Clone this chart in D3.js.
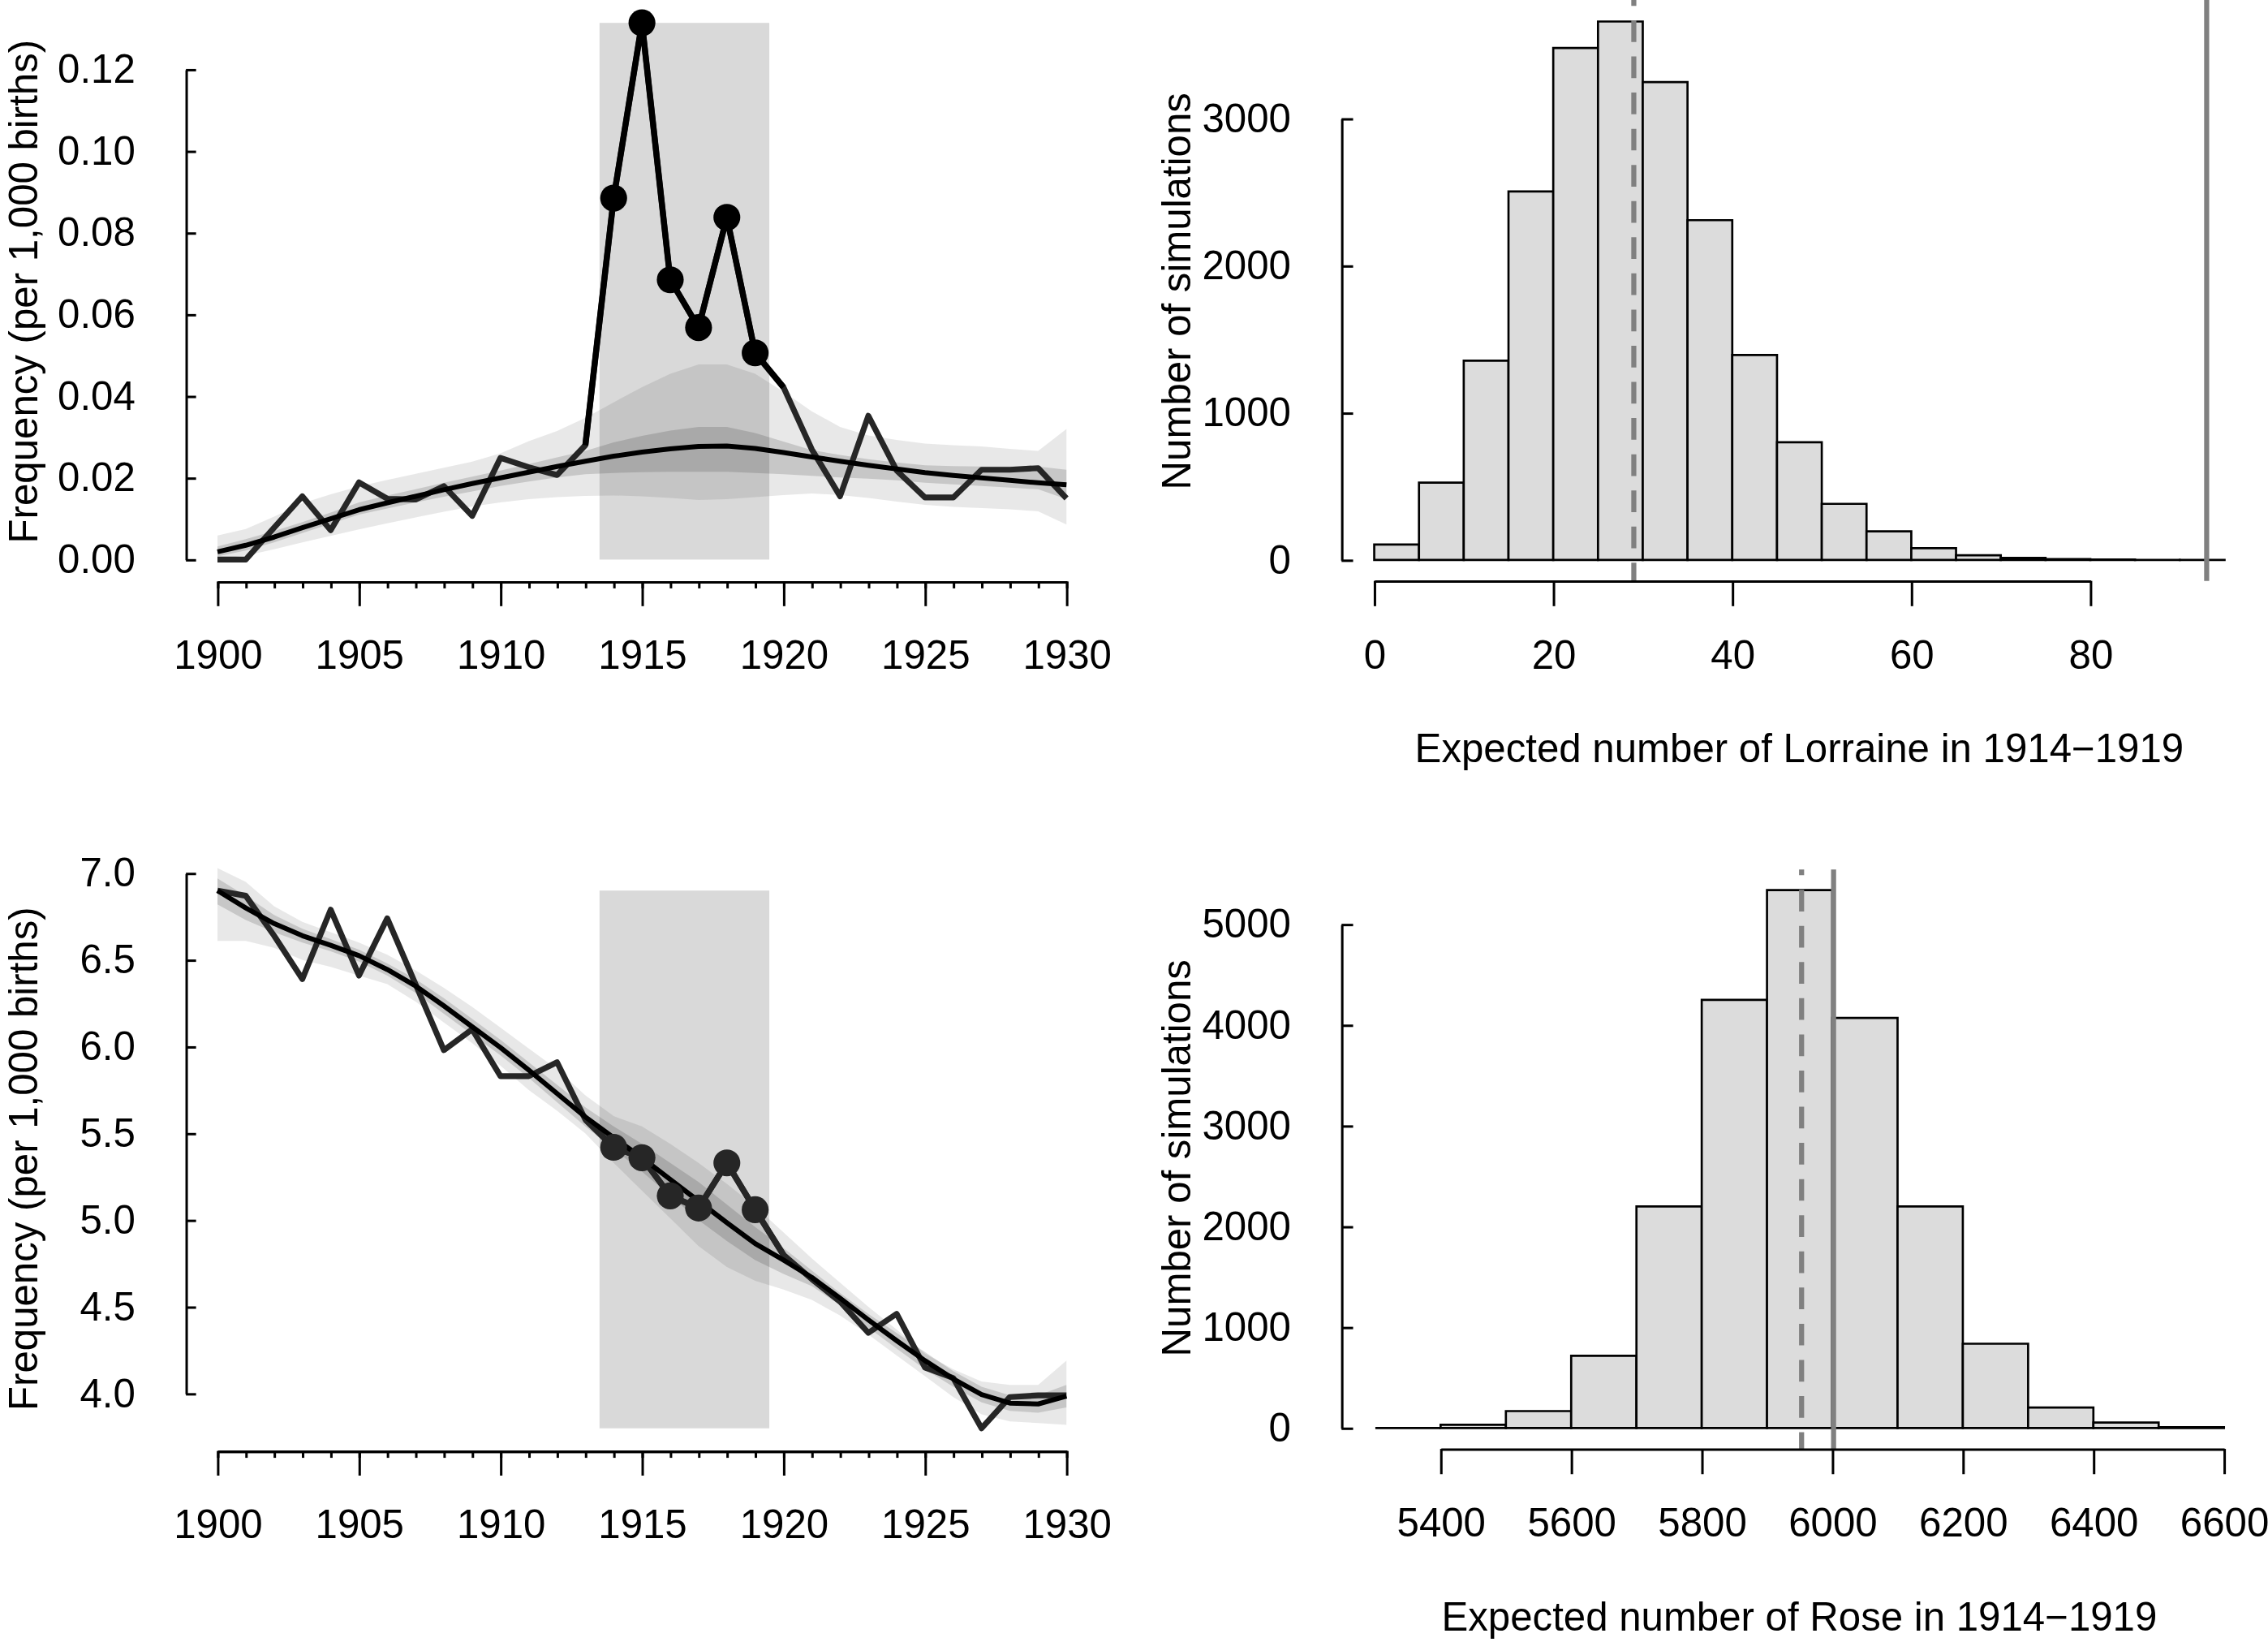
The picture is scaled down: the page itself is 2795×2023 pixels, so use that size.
<!DOCTYPE html>
<html><head><meta charset="utf-8">
<script src="https://cdn.jsdelivr.net/npm/d3@7"></script>
<style>html,body{margin:0;padding:0;background:#fff;} svg{display:block;}</style>
</head><body>
<svg id="chart"></svg>
<script>
// ---------------- DATA ----------------
const years = [1900,1901,1902,1903,1904,1905,1906,1907,1908,1909,1910,1911,1912,1913,1914,1915,1916,1917,1918,1919,1920,1921,1922,1923,1924,1925,1926,1927,1928,1929,1930];
const majorYears = [1900,1905,1910,1915,1920,1925,1930];
const periodYears = [1914,1915,1916,1917,1918,1919];
const highlightYears = [1913,1914,1915,1916,1917,1918,1919,1920];

// Lorraine: frequency per 1,000 births
const lorraineObserved = [0.000,0.000,0.0078,0.0155,0.0072,0.0189,0.0149,0.0147,0.0180,0.0107,0.0249,0.0226,0.0207,0.0280,0.0885,0.1314,0.0685,0.0568,0.0838,0.0506,0.0422,0.0270,0.0155,0.0352,0.0218,0.0152,0.0152,0.0220,0.0220,0.0224,0.0150];
const lorraineSmooth   = [0.0019,0.0035,0.0055,0.0078,0.0100,0.0122,0.0139,0.0155,0.0171,0.0186,0.0200,0.0214,0.0228,0.0241,0.0253,0.0263,0.0271,0.0277,0.0278,0.0272,0.0262,0.0251,0.0241,0.0231,0.0222,0.0213,0.0206,0.0200,0.0194,0.0188,0.0183];
const lorraineOuterUp  = [0.0059,0.0075,0.0105,0.0138,0.0160,0.0179,0.0195,0.0210,0.0225,0.0240,0.0260,0.0290,0.0315,0.0347,0.0385,0.0422,0.0455,0.0478,0.0478,0.0455,0.0411,0.0363,0.0325,0.0304,0.0293,0.0284,0.0280,0.0277,0.0271,0.0266,0.0320];
const lorraineOuterLo  = [0.0002,0.0010,0.0025,0.0042,0.0058,0.0074,0.0089,0.0103,0.0117,0.0130,0.0140,0.0148,0.0153,0.0156,0.0157,0.0155,0.0151,0.0146,0.0148,0.0153,0.0158,0.0162,0.0158,0.0151,0.0142,0.0134,0.0129,0.0126,0.0123,0.0118,0.0086];
const lorraineInnerUp  = [0.0032,0.0050,0.0070,0.0092,0.0115,0.0140,0.0157,0.0172,0.0188,0.0203,0.0218,0.0234,0.0250,0.0266,0.0287,0.0303,0.0316,0.0325,0.0325,0.0310,0.0289,0.0268,0.0256,0.0246,0.0238,0.0231,0.0229,0.0228,0.0228,0.0228,0.0220];
const lorraineInnerLo  = [0.0008,0.0022,0.0042,0.0065,0.0088,0.0110,0.0125,0.0140,0.0154,0.0167,0.0180,0.0191,0.0201,0.0209,0.0212,0.0214,0.0215,0.0215,0.0215,0.0212,0.0209,0.0205,0.0201,0.0198,0.0194,0.0188,0.0184,0.0180,0.0176,0.0172,0.0148];
const lorraineYTicks = [0,0.02,0.04,0.06,0.08,0.10,0.12];

// Rose: frequency per 1,000 births
const roseObserved = [6.90,6.87,6.64,6.39,6.79,6.41,6.74,6.36,5.98,6.10,5.83,5.83,5.91,5.58,5.42,5.36,5.14,5.07,5.33,5.06,4.80,4.66,4.53,4.35,4.46,4.15,4.09,3.80,3.98,3.99,3.99];
const roseSmooth   = [6.90,6.80,6.71,6.64,6.585,6.525,6.445,6.35,6.235,6.115,5.995,5.865,5.73,5.595,5.475,5.36,5.235,5.11,4.985,4.865,4.77,4.67,4.55,4.425,4.305,4.19,4.085,3.995,3.945,3.94,3.985];
const roseOuterUp  = [7.03,6.95,6.81,6.72,6.66,6.60,6.53,6.44,6.34,6.23,6.11,5.99,5.87,5.72,5.60,5.54,5.44,5.33,5.21,5.08,4.93,4.78,4.64,4.50,4.37,4.23,4.14,4.07,4.05,4.05,4.19];
const roseOuterLo  = [6.61,6.61,6.57,6.50,6.46,6.41,6.36,6.26,6.14,6.02,5.89,5.75,5.63,5.50,5.33,5.17,5.01,4.85,4.73,4.65,4.60,4.54,4.45,4.34,4.22,4.10,3.98,3.88,3.84,3.83,3.82];
const roseInnerUp  = [6.97,6.87,6.76,6.68,6.62,6.56,6.48,6.39,6.28,6.16,6.04,5.91,5.78,5.65,5.54,5.44,5.33,5.22,5.09,4.96,4.84,4.71,4.58,4.46,4.35,4.24,4.13,4.04,3.99,3.99,4.05];
const roseInnerLo  = [6.82,6.73,6.66,6.60,6.55,6.49,6.41,6.31,6.19,6.07,5.95,5.82,5.68,5.54,5.41,5.28,5.14,5.00,4.88,4.77,4.69,4.62,4.51,4.38,4.26,4.14,4.04,3.95,3.90,3.89,3.92];
const roseYTicks = [4.0,4.5,5.0,5.5,6.0,6.5,7.0];

// Histogram: expected number of Lorraine in 1914-1919
const lorraineBinEdges = [0,5,10,15,20,25,30,35,40,45,50,55,60,65,70,75,80,85,90,95];
const lorraineCounts   = [105,526,1355,2505,3480,3660,3248,2310,1393,800,382,195,80,32,14,6,3,1,1];
const lorraineHistXTicks = [0,20,40,60,80];
const lorraineHistYTicks = [0,1000,2000,3000];
const lorraineExpected = 29.0;   // dashed line
const lorraineObservedTotal = 93.0; // solid line

// Histogram: expected number of Rose in 1914-1919
const roseBinEdges = [5300,5400,5500,5600,5700,5800,5900,6000,6100,6200,6300,6400,6500,6600];
const roseCounts   = [0,32,168,717,2200,4250,5340,4070,2200,837,203,54,8];
const roseHistXTicks = [5400,5600,5800,6000,6200,6400,6600];
const roseHistYTicks = [0,1000,2000,3000,4000,5000];
const roseExpected = 5953;
const roseObservedTotal = 6002;

// ---------------- DRAWING ----------------
const W = 2795, H = 2023, VW = 1568, VH = 1135;
const FONT = '"Liberation Sans", Arial, Helvetica, sans-serif';
const FS = 27.6;
const AXW = 1.7;

const svg = d3.select('#chart').attr('width', W).attr('height', H)
  .attr('viewBox', `0 0 ${VW} ${VH}`)
  .attr('font-family', FONT);
svg.append('rect').attr('width', VW).attr('height', VH).attr('fill', '#fff');

function styleAxis(g) {
  g.attr('font-family', FONT).attr('font-size', FS);
  g.selectAll('path.domain').attr('stroke', '#000').attr('stroke-width', AXW);
  g.selectAll('.tick line').attr('stroke', '#000').attr('stroke-width', AXW);
  g.selectAll('.tick text').attr('fill', '#000');
}

function linePanel(cfg) {
  const g = svg.append('g');
  const x = d3.scaleLinear().domain([1900, 1930]).range([150.3, 737.3]);
  const y = d3.scaleLinear().domain(cfg.yDomain).range(cfg.yRange);

  const lo = d3.min(cfg.obs), hi = d3.max(cfg.obs);
  const p0 = d3.min(periodYears) - 0.5, p1 = d3.max(periodYears) + 0.5;
  g.append('rect')
    .attr('x', x(p0)).attr('width', x(p1) - x(p0))
    .attr('y', y(hi)).attr('height', y(lo) - y(hi))
    .attr('fill', '#d9d9d9');

  const band = (up, low) => d3.area()
    .x((d, i) => x(years[i])).y0((d, i) => y(low[i])).y1((d, i) => y(up[i]));
  g.append('path').datum(years).attr('d', band(cfg.outerUp, cfg.outerLo))
    .attr('fill', '#000').attr('fill-opacity', 0.09);
  g.append('path').datum(years).attr('d', band(cfg.innerUp, cfg.innerLo))
    .attr('fill', '#000').attr('fill-opacity', 0.14);

  const line = d3.line().x(d => x(d.yr)).y(d => y(d.v));
  const obsPts = years.map((yr, i) => ({ yr, v: cfg.obs[i] }));
  g.append('path').datum(obsPts).attr('d', line)
    .attr('fill', 'none').attr('stroke', '#262626').attr('stroke-width', 4.0)
    .attr('stroke-linejoin', 'round');
  const hl = obsPts.filter(d => highlightYears.includes(d.yr));
  g.append('path').datum(hl).attr('d', line)
    .attr('fill', 'none').attr('stroke', cfg.hlColor).attr('stroke-width', 4.2)
    .attr('stroke-linejoin', 'round');

  const smPts = years.map((yr, i) => ({ yr, v: cfg.smooth[i] }));
  g.append('path').datum(smPts).attr('d', line)
    .attr('fill', 'none').attr('stroke', '#000').attr('stroke-width', 3.4)
    .attr('stroke-linejoin', 'round');

  g.selectAll('circle.pt').data(obsPts.filter(d => periodYears.includes(d.yr)))
    .join('circle').attr('class', 'pt')
    .attr('cx', d => x(d.yr)).attr('cy', d => y(d.v)).attr('r', 9.3)
    .attr('fill', cfg.hlColor);

  // y axis (ticks inward)
  const ya = g.append('g').attr('transform', 'translate(128.5,0)')
    .call(d3.axisLeft(y).tickValues(cfg.yTicks).tickFormat(d3.format(cfg.yFmt))
      .tickSize(-7).tickSizeOuter(0).tickPadding(35));
  styleAxis(ya);

  // x axis: minor and major ticks
  const xa1 = g.append('g').attr('transform', `translate(0,${cfg.xAxisY})`)
    .call(d3.axisBottom(x).tickValues(years).tickFormat('').tickSize(4.7).tickSizeOuter(0));
  styleAxis(xa1);
  const xa2 = g.append('g').attr('transform', `translate(0,${cfg.xAxisY})`)
    .call(d3.axisBottom(x).tickValues(majorYears).tickFormat(d3.format('d'))
      .tickSize(17).tickSizeOuter(0).tickPadding(23.5));
  styleAxis(xa2);

  g.append('text').attr('transform', `translate(25.5,${cfg.labelY}) rotate(-90)`)
    .attr('text-anchor', 'middle').attr('font-size', FS).attr('fill', '#000')
    .text('Frequency (per 1,000 births)');
}

function histPanel(cfg) {
  const g = svg.append('g');
  const x = d3.scaleLinear().domain(cfg.xDomain).range(cfg.xRange);
  const y = d3.scaleLinear().domain(cfg.yDomain).range(cfg.yRange);

  g.selectAll('path.bar').data(cfg.counts).join('path').attr('class', 'bar')
    .attr('d', (c, i) => `M${x(cfg.edges[i])},${y(0)}V${y(c)}H${x(cfg.edges[i + 1])}V${y(0)}Z`)
    .attr('fill', '#dcdcdc').attr('stroke', '#000').attr('stroke-width', 1.5)
    .attr('stroke-linejoin', 'miter');

  g.append('line').attr('x1', x(cfg.expected)).attr('x2', x(cfg.expected))
    .attr('y1', cfg.vTop).attr('y2', cfg.vBottom)
    .attr('stroke', '#808080').attr('stroke-width', 3.5)
    .attr('stroke-dasharray', '15,10').attr('stroke-dashoffset', 11);
  g.append('line').attr('x1', x(cfg.observed)).attr('x2', x(cfg.observed))
    .attr('y1', cfg.vTop).attr('y2', cfg.vBottom)
    .attr('stroke', '#808080').attr('stroke-width', 3.5);

  const ya = g.append('g').attr('transform', 'translate(927.5,0)')
    .call(d3.axisLeft(y).tickValues(cfg.yTicks).tickFormat(d3.format('d'))
      .tickSize(-8).tickSizeOuter(0).tickPadding(35));
  styleAxis(ya);
  const xa = g.append('g').attr('transform', `translate(0,${cfg.xAxisY})`)
    .call(d3.axisBottom(x).tickValues(cfg.xTicks).tickFormat(d3.format('d'))
      .tickSize(17.5).tickSizeOuter(0).tickPadding(23.5));
  styleAxis(xa);

  g.append('text').attr('transform', `translate(823,${cfg.yLabelY}) rotate(-90)`)
    .attr('text-anchor', 'middle').attr('font-size', FS).attr('fill', '#000')
    .text('Number of simulations');
  g.append('text').attr('x', 1244).attr('y', cfg.xLabelY)
    .attr('text-anchor', 'middle').attr('font-size', FS).attr('fill', '#000')
    .text(cfg.xLabel);
}

linePanel({
  obs: lorraineObserved, smooth: lorraineSmooth,
  outerUp: lorraineOuterUp, outerLo: lorraineOuterLo,
  innerUp: lorraineInnerUp, innerLo: lorraineInnerLo,
  yDomain: [0, 0.12], yRange: [386.8, 48.0], yTicks: lorraineYTicks, yFmt: '.2f',
  xAxisY: 402, labelY: 201.5, hlColor: '#000'
});
linePanel({
  obs: roseObserved, smooth: roseSmooth,
  outerUp: roseOuterUp, outerLo: roseOuterLo,
  innerUp: roseInnerUp, innerLo: roseInnerLo,
  yDomain: [4, 7], yRange: [963.3, 603.6], yTicks: roseYTicks, yFmt: '.1f',
  xAxisY: 1003, labelY: 801, hlColor: '#262626'
});
histPanel({
  edges: lorraineBinEdges, counts: lorraineCounts,
  xDomain: [0, 80], xRange: [950.1, 1445.2], yDomain: [0, 3000], yRange: [387.1, 82.0],
  xTicks: lorraineHistXTicks, yTicks: lorraineHistYTicks,
  expected: lorraineExpected, observed: lorraineObservedTotal,
  vTop: 0, vBottom: 401.5, xAxisY: 401.5, yLabelY: 201.3, xLabelY: 527,
  xLabel: 'Expected number of Lorraine in 1914\u22121919'
});
histPanel({
  edges: roseBinEdges, counts: roseCounts,
  xDomain: [5400, 6600], xRange: [996.0, 1537.6], yDomain: [0, 5000], yRange: [987.1, 638.9],
  xTicks: roseHistXTicks, yTicks: roseHistYTicks,
  expected: roseExpected, observed: roseObservedTotal,
  vTop: 601, vBottom: 1001.5, xAxisY: 1001.5, yLabelY: 800.5, xLabelY: 1127,
  xLabel: 'Expected number of Rose in 1914\u22121919'
});
</script>
</body></html>
